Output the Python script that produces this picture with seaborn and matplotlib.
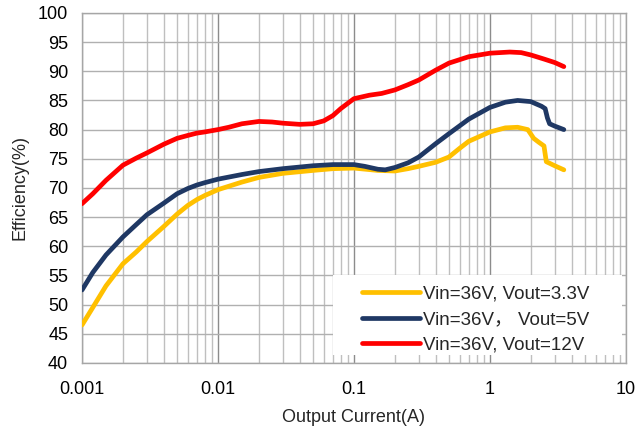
import numpy as np
import pandas as pd
import matplotlib
matplotlib.use("Agg")
import matplotlib.pyplot as plt
from matplotlib.patches import Rectangle
import seaborn as sns
from matplotlib.ticker import FixedLocator, LogLocator, NullFormatter

sns.set_theme(style="white")
plt.rcParams["font.family"] = ["Liberation Sans", "Noto Sans CJK SC", "DejaVu Sans"]

# Output current (A) and efficiency (%) for each output voltage
current_33 = [0.001, 0.0012, 0.0015, 0.002, 0.0025, 0.003, 0.004, 0.005, 0.006, 0.007,
              0.008, 0.01, 0.015, 0.02, 0.03, 0.05, 0.07, 0.1, 0.15, 0.2, 0.25, 0.3,
              0.4, 0.5, 0.6, 0.7, 1.0, 1.3, 1.6, 1.9, 2.1, 2.3, 2.5, 2.6, 3.0, 3.5]
eff_33 = [46.5, 49.5, 53.2, 57.0, 59.0, 60.8, 63.4, 65.5, 67.0, 68.0,
          68.7, 69.7, 71.0, 71.8, 72.5, 73.0, 73.3, 73.4, 73.0, 72.9, 73.3, 73.7,
          74.4, 75.3, 76.8, 78.0, 79.6, 80.3, 80.4, 80.0, 78.5, 77.8, 77.2, 74.5, 73.8, 73.1]

current_5 = [0.001, 0.0012, 0.0015, 0.002, 0.0025, 0.003, 0.004, 0.005, 0.006, 0.007,
             0.008, 0.01, 0.015, 0.02, 0.03, 0.05, 0.07, 0.1, 0.12, 0.15, 0.17, 0.2,
             0.25, 0.3, 0.4, 0.5, 0.7, 1.0, 1.3, 1.6, 2.0, 2.4, 2.55, 2.65, 2.75, 3.0, 3.5]
eff_5 = [52.5, 55.5, 58.5, 61.6, 63.7, 65.4, 67.4, 69.0, 69.9, 70.5,
         70.9, 71.5, 72.3, 72.8, 73.3, 73.8, 74.0, 74.0, 73.7, 73.2, 73.1, 73.5,
         74.3, 75.3, 77.6, 79.3, 81.8, 83.8, 84.7, 85.0, 84.8, 84.0, 83.6, 82.0, 81.0, 80.6, 80.0]

current_12 = [0.001, 0.0012, 0.0015, 0.002, 0.0025, 0.003, 0.004, 0.005, 0.006, 0.007,
              0.008, 0.01, 0.012, 0.015, 0.02, 0.025, 0.03, 0.04, 0.05, 0.06, 0.07, 0.08,
              0.1, 0.13, 0.16, 0.2, 0.25, 0.3, 0.4, 0.5, 0.7, 1.0, 1.4, 1.7, 2.0, 2.5, 3.0, 3.5]
eff_12 = [67.3, 69.0, 71.3, 73.9, 75.1, 76.0, 77.5, 78.5, 79.0, 79.4,
          79.6, 80.0, 80.4, 81.0, 81.4, 81.3, 81.1, 80.9, 81.0, 81.5, 82.4, 83.6,
          85.3, 85.9, 86.2, 86.8, 87.7, 88.5, 90.2, 91.4, 92.5, 93.1, 93.3, 93.2, 92.8, 92.1, 91.5, 90.8]

labels = ["Vin=36V, Vout=3.3V", "Vin=36V， Vout=5V", "Vin=36V, Vout=12V"]
colors = ["#FFC000", "#1F3864", "#FF0000"]

x_ticks = [0.001, 0.01, 0.1, 1, 10]
x_tick_labels = ["0.001", "0.01", "0.1", "1", "10"]
y_ticks = list(range(40, 101, 5))

fig, ax = plt.subplots(figsize=(6.36, 4.32), dpi=100)
fig.subplots_adjust(left=0.129, right=0.984, top=0.970, bottom=0.160)

for cur, eff, lab, col in zip([current_33, current_5, current_12],
                              [eff_33, eff_5, eff_12], labels, colors):
    df = pd.DataFrame({"current": cur, "eff": eff})
    sns.lineplot(data=df, x="current", y="eff", ax=ax, color=col, lw=3.4,
                 label=lab, solid_capstyle="round", solid_joinstyle="round", zorder=3)

ax.set_xscale("log")
ax.set_xlim(0.001, 10)
ax.set_ylim(40, 100)
ax.xaxis.set_major_locator(FixedLocator(x_ticks))
ax.set_xticklabels(x_tick_labels)
ax.xaxis.set_minor_locator(LogLocator(base=10, subs=np.arange(2, 10)))
ax.xaxis.set_minor_formatter(NullFormatter())
ax.set_yticks(y_ticks)

ax.grid(True, which="major", axis="y", color="#B0B0B0", lw=1.0, zorder=0)
ax.grid(True, which="minor", axis="x", color="#BFBFBF", lw=1.0, zorder=0)
ax.grid(True, which="major", axis="x", color="#8C8C8C", lw=1.0, zorder=0)
ax.set_axisbelow(True)

for sp in ax.spines.values():
    sp.set_color("#A6A6A6")
    sp.set_linewidth(1.0)

ax.tick_params(axis="both", which="both", length=0, labelsize=13, colors="black")
ax.tick_params(axis="x", pad=13)
ax.tick_params(axis="y", pad=10)
ax.set_xlabel("Output Current(A)", fontsize=13, labelpad=8)
ax.set_ylabel("Efficiency(%)", fontsize=13, labelpad=7)

# white panel behind the legend
ax.add_patch(Rectangle((0.4614, 0.0229), 0.5312, 0.2285, transform=ax.transAxes,
                       facecolor="white", edgecolor="none", zorder=2))

leg = ax.legend(loc="center", bbox_to_anchor=(0.724, 0.123), frameon=False,
                fontsize=13.5, handlelength=3.1, handletextpad=0.15,
                labelspacing=0.45, borderpad=0, borderaxespad=0)
leg.set_zorder(5)
for line in leg.get_lines():
    line.set_linewidth(3.4)

fig.savefig("out.png", dpi=100)
